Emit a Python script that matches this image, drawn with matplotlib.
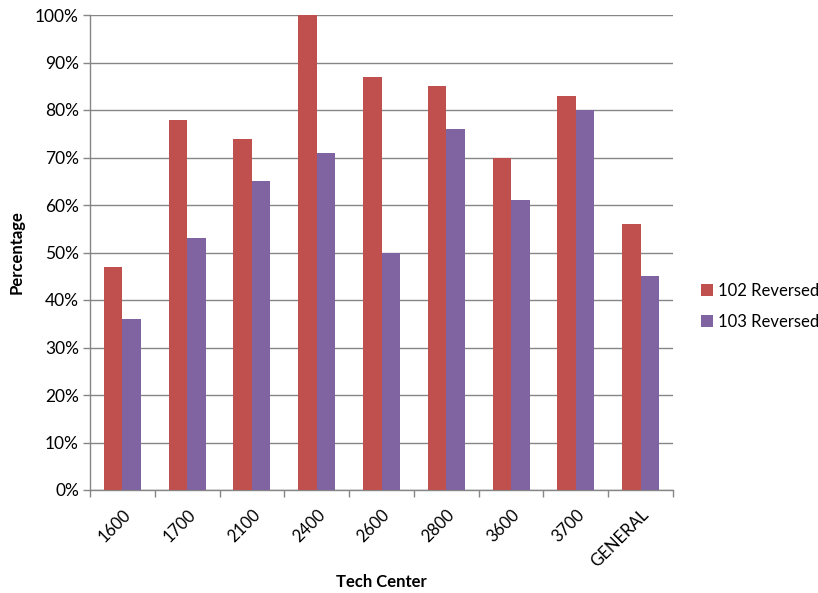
import numpy as np
import matplotlib.pyplot as plt
from matplotlib.ticker import PercentFormatter

categories = ["1600", "1700", "2100", "2400", "2600", "2800", "3600", "3700", "GENERAL"]
reversed_102 = [47, 78, 74, 100, 87, 85, 70, 83, 56]
reversed_103 = [36, 53, 65, 71, 50, 76, 61, 80, 45]

RED = "#C0504D"
PURPLE = "#8064A2"
GRID = "#868686"

plt.rcParams["font.family"] = ["Lato", "DejaVu Sans"]

fig = plt.figure(figsize=(8.18, 5.93), dpi=100)
ax = fig.add_axes([90 / 818, 103 / 593, 583 / 818, 475 / 593])

x = np.arange(len(categories))
w = 0.285
ax.bar(x - w / 2, reversed_102, w, color=RED, label="102 Reversed", zorder=3)
ax.bar(x + w / 2, reversed_103, w, color=PURPLE, label="103 Reversed", zorder=3)

ax.set_xlim(-0.5, len(categories) - 0.5)
ax.set_ylim(0, 100)
ax.set_yticks(np.arange(0, 101, 10))
ax.yaxis.set_major_formatter(PercentFormatter(decimals=0))
ax.yaxis.grid(True, color=GRID, linewidth=1)
ax.set_axisbelow(True)

ax.set_xticks(x)
ax.set_xticklabels(categories, rotation=45, ha="right", va="top",
                   rotation_mode="anchor", fontsize=12)
ax.tick_params(axis="x", length=0, pad=12)
ax.set_xticks(np.arange(-0.5, len(categories)), minor=True)
ax.tick_params(axis="x", which="minor", length=5, color=GRID, width=1)
ax.tick_params(axis="y", length=5, color=GRID, width=1, labelsize=12.5, pad=3)

for s in ["top", "right"]:
    ax.spines[s].set_visible(False)
for s in ["left", "bottom"]:
    ax.spines[s].set_color(GRID)
    ax.spines[s].set_linewidth(1)

fig.text(17 / 818, 1 - 252 / 593, "Percentage", rotation=90, fontsize=12,
         fontweight="bold", ha="center", va="center")
fig.text(381 / 818, 1 - 582 / 593, "Tech Center", fontsize=12,
         fontweight="bold", ha="center", va="center")

fig.legend(loc="center left", bbox_to_anchor=(701 / 818, 1 - 306 / 593),
           frameon=False, fontsize=12, handlelength=0.7, handleheight=0.7,
           handletextpad=0.35, labelspacing=0.9, borderpad=0, borderaxespad=0)

plt.savefig("out.png", dpi=100)
